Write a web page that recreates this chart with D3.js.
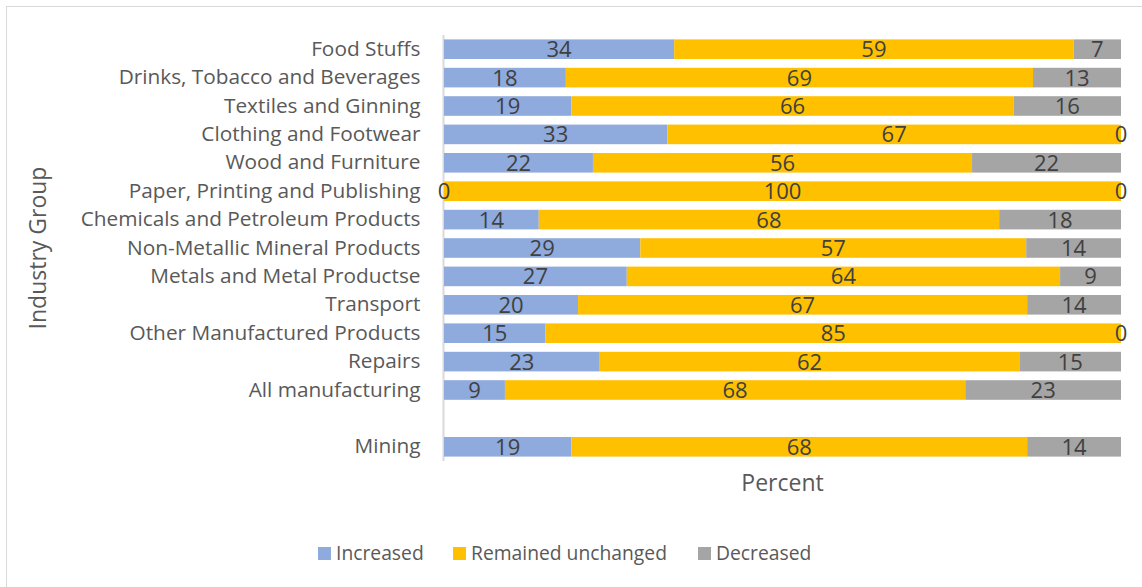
<!DOCTYPE html>
<html>
<head>
<meta charset="utf-8">
<script src="https://cdn.jsdelivr.net/npm/d3@7"></script>
<style>
  html, body { margin: 0; padding: 0; background: #fff; }
  svg { display: block; font-family: "Open Sans", sans-serif; }
</style>
</head>
<body>
<svg id="chart" width="1142" height="587"></svg>
<script>
// Industry groups, top to bottom ("" is a spacer row before Mining)
const categories = [
  "Food Stuffs",
  "Drinks, Tobacco and Beverages",
  "Textiles and Ginning",
  "Clothing and Footwear",
  "Wood and Furniture",
  "Paper, Printing and Publishing",
  "Chemicals and Petroleum Products",
  "Non-Metallic Mineral Products",
  "Metals and Metal Productse",
  "Transport",
  "Other Manufactured Products",
  "Repairs",
  "All manufacturing",
  "",
  "Mining"
];
const increased = [34, 18, 19, 33, 22, 0, 14, 29, 27, 20, 15, 23, 9, null, 19];
const unchanged = [59, 69, 66, 67, 56, 100, 68, 57, 64, 67, 85, 62, 68, null, 68];
const decreased = [7, 13, 16, 0, 22, 0, 18, 14, 9, 14, 0, 15, 23, null, 14];

const seriesNames = ["Increased", "Remained unchanged", "Decreased"];
const seriesColors = ["#8FAADC", "#FFC000", "#A5A5A5"];

const svg = d3.select("#chart");
const W = 1142, H = 587;

// outer chart frame
svg.append("rect")
  .attr("x", 6.5).attr("y", 6.5)
  .attr("width", W).attr("height", H)
  .attr("fill", "#fff").attr("stroke", "#d9d9d9").attr("stroke-width", 1);

const plot = { left: 444, right: 1121, top: 35, bottom: 461 };

const y = d3.scaleBand()
  .domain(d3.range(categories.length))
  .range([plot.top, plot.bottom])
  .paddingInner(0.31)
  .paddingOuter(0.155);

const x = d3.scaleLinear().domain([0, 1]).range([plot.left, plot.right]);

// rows as shares of each row's total (100% stacked)
const rows = categories.map((c, i) => {
  const vals = [increased[i], unchanged[i], decreased[i]];
  return { i, cat: c, vals };
}).filter(r => r.vals[0] !== null);

// category axis
const yAxis = d3.axisLeft(y)
  .tickFormat(i => categories[i])
  .tickSize(0)
  .tickPadding(23);
const ax = svg.append("g")
  .attr("transform", `translate(${plot.left - 0.5},0)`)
  .call(yAxis);
ax.select(".domain").attr("stroke", "#d9d9d9").attr("stroke-width", 2)
  .attr("d", `M0,${plot.top}V${plot.bottom}`);
ax.selectAll("text")
  .attr("font-size", 20.8)
  .attr("fill", "#595959")
  .attr("font-family", "'Open Sans', sans-serif");

const bars = svg.append("g");
const labels = svg.append("g");

rows.forEach(r => {
  const total = d3.sum(r.vals);
  let acc = 0;
  r.vals.forEach((v, s) => {
    const x0 = x(acc / total);
    const x1 = x((acc + v) / total);
    acc += v;
    if (v > 0) {
      bars.append("rect")
        .attr("x", x0).attr("y", y(r.i))
        .attr("width", x1 - x0).attr("height", y.bandwidth())
        .attr("fill", seriesColors[s]);
    }
    labels.append("text")
      .attr("x", (x0 + x1) / 2)
      .attr("y", y(r.i) + y.bandwidth() / 2)
      .attr("dy", "0.36em")
      .attr("text-anchor", "middle")
      .attr("font-size", 22)
      .attr("fill", "#404040")
      .text(v);
  });
});

// axis titles
svg.append("text")
  .attr("x", (plot.left + plot.right) / 2)
  .attr("y", 491)
  .attr("text-anchor", "middle")
  .attr("font-size", 23)
  .attr("fill", "#595959")
  .text("Percent");

svg.append("text")
  .attr("transform", `translate(38,${(plot.top + plot.bottom) / 2}) rotate(-90)`)
  .attr("text-anchor", "middle")
  .attr("dy", "0.35em")
  .attr("font-size", 23)
  .attr("fill", "#595959")
  .text("Industry Group");

// legend
const legendX = [318, 453, 698];
const legend = svg.append("g");
seriesNames.forEach((name, s) => {
  legend.append("rect")
    .attr("x", legendX[s]).attr("y", 547)
    .attr("width", 13).attr("height", 13)
    .attr("fill", seriesColors[s]);
  legend.append("text")
    .attr("x", legendX[s] + 18).attr("y", 553.5)
    .attr("dy", "0.36em")
    .attr("font-size", 19.3)
    .attr("fill", "#595959")
    .text(name);
});
</script>
</body>
</html>
